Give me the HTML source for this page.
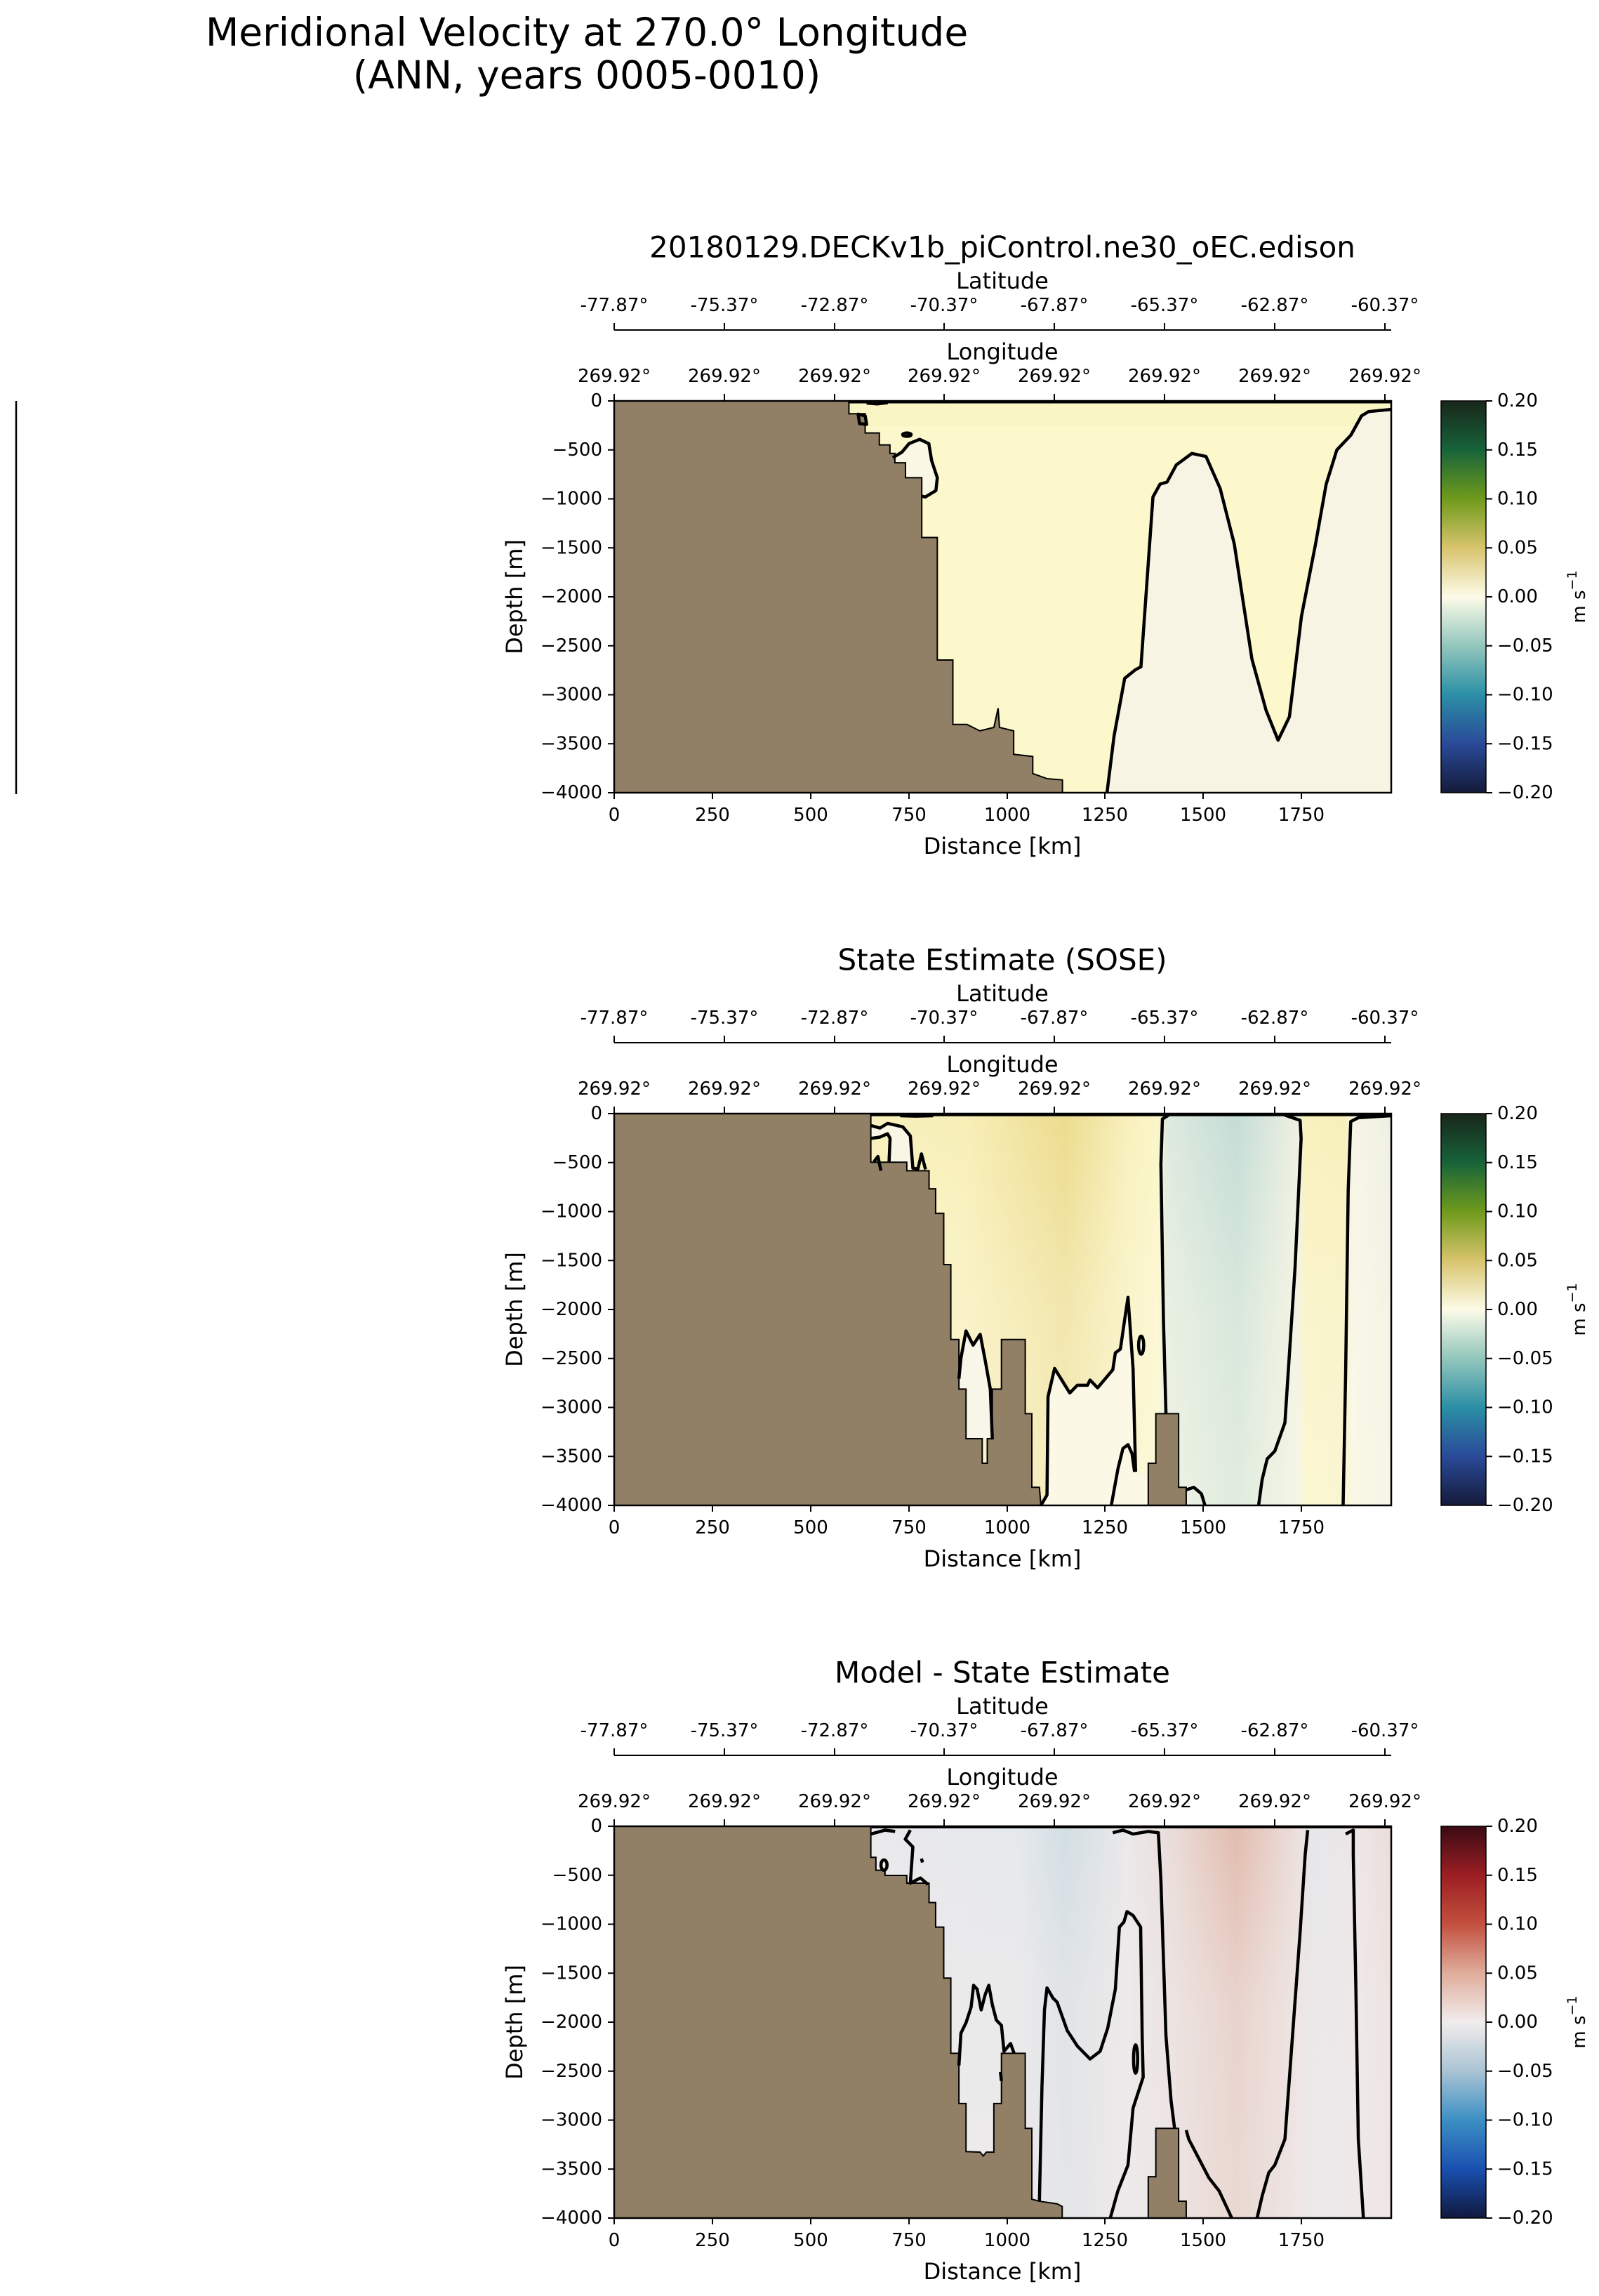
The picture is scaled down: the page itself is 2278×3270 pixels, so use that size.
<!DOCTYPE html>
<html><head><meta charset="utf-8"><style>
html,body{margin:0;padding:0;background:#fff;}
svg{display:block;}
text{font-family:"DejaVu Sans","Liberation Sans",sans-serif;fill:#000;}
.tk{font-size:26px;}
.al{font-size:32px;}
.tt{font-size:42px;}
</style></head><body>
<svg width="2278" height="3270" viewBox="0 0 2278 3270" xmlns="http://www.w3.org/2000/svg">
<defs>
<linearGradient id="cb1" x1="0" y1="0" x2="0" y2="1">
<stop offset="0" stop-color="#18261a"/><stop offset="0.125" stop-color="#17633a"/><stop offset="0.25" stop-color="#6f9a1c"/><stop offset="0.375" stop-color="#d8c46c"/><stop offset="0.5" stop-color="#fdfbe8"/><stop offset="0.625" stop-color="#93c6bc"/><stop offset="0.75" stop-color="#2b8fa6"/><stop offset="0.875" stop-color="#2a4a98"/><stop offset="1" stop-color="#141a3a"/>
</linearGradient>
<linearGradient id="cb3" x1="0" y1="0" x2="0" y2="1">
<stop offset="0" stop-color="#3b0a14"/><stop offset="0.125" stop-color="#9b1e23"/><stop offset="0.25" stop-color="#c4503f"/><stop offset="0.375" stop-color="#e0ad9b"/><stop offset="0.5" stop-color="#f1ecec"/><stop offset="0.625" stop-color="#a9c4d4"/><stop offset="0.75" stop-color="#3c8fc4"/><stop offset="0.875" stop-color="#1a50b0"/><stop offset="1" stop-color="#11183e"/>
</linearGradient>
<linearGradient id="bg2" x1="0" y1="0" x2="1" y2="0">
<stop offset="0" stop-color="#fbf6c6"/><stop offset="0.45" stop-color="#f8efb8"/><stop offset="0.58" stop-color="#ecdc8e"/><stop offset="0.66" stop-color="#f8f0bc"/><stop offset="0.70" stop-color="#fbf6c8"/><stop offset="0.71" stop-color="#dfeadf"/><stop offset="0.80" stop-color="#c4ddd6"/><stop offset="0.88" stop-color="#eef0e2"/><stop offset="0.89" stop-color="#f9f1bd"/><stop offset="0.94" stop-color="#f8f0bb"/><stop offset="0.95" stop-color="#f7f5e6"/><stop offset="1" stop-color="#eef0e4"/>
</linearGradient>
<linearGradient id="fade2" x1="0" y1="0" x2="0" y2="1">
<stop offset="0" stop-color="#fdfbe8" stop-opacity="0"/><stop offset="0.5" stop-color="#fdfbe8" stop-opacity="0.35"/><stop offset="1" stop-color="#fdfbe8" stop-opacity="0.5"/>
</linearGradient>
<linearGradient id="bg3" x1="0" y1="0" x2="1" y2="0">
<stop offset="0" stop-color="#efeaea"/><stop offset="0.42" stop-color="#e8e9ec"/><stop offset="0.52" stop-color="#e6e9ec"/><stop offset="0.58" stop-color="#d2dee4"/><stop offset="0.66" stop-color="#ebe9ea"/><stop offset="0.72" stop-color="#eadcd8"/><stop offset="0.80" stop-color="#e2bcae"/><stop offset="0.88" stop-color="#ece0dd"/><stop offset="0.90" stop-color="#e6e7ea"/><stop offset="0.96" stop-color="#eee6e6"/><stop offset="1" stop-color="#ecdcd8"/>
</linearGradient>
<linearGradient id="fade3" x1="0" y1="0" x2="0" y2="1">
<stop offset="0" stop-color="#efeaea" stop-opacity="0"/><stop offset="0.45" stop-color="#efeaea" stop-opacity="0.5"/><stop offset="1" stop-color="#efeaea" stop-opacity="0.6"/>
</linearGradient>
</defs>

<text x="836" y="46" font-size="55" text-anchor="middle" dominant-baseline="central">Meridional Velocity at 270.0° Longitude</text>
<text x="836" y="107" font-size="55" text-anchor="middle" dominant-baseline="central">(ANN, years 0005-0010)</text>
<line x1="23" y1="571" x2="23" y2="1131" stroke="#000" stroke-width="2.5"/>

<!-- ================= PANEL 1 ================= -->
<g transform="translate(0,571)">
<svg x="875" y="0" width="1107" height="558" viewBox="173 445 1099 918" preserveAspectRatio="none">
<rect x="173" y="445" width="1099" height="918" fill="#fcf8cc"/>
<rect x="173" y="445" width="1099" height="60" fill="#f9f3c0" opacity="0.6"/>
<path d="M870,1363 L880,1230 L895,1095 L910,1075 L918,1068 L935,670 L945,640 L955,635 L968,595 L990,568 L1010,575 L1030,650 L1050,780 L1075,1050 L1095,1170 L1112,1240 L1128,1185 L1145,950 L1165,780 L1180,640 L1195,560 L1215,525 L1230,480 L1240,470 L1272,465 L1272,1363 Z" fill="#f8f4e3"/>
<path d="M567,578 L580,565 L590,545 L605,535 L618,545 L622,585 L630,625 L628,655 L613,670 L610,668 Z" fill="#faf7e4"/>
<path d="M173,445 L505,445 L505,475 L528,475 L528,520 L548,520 L548,548 L563,548 L563,568 L570,568 L570,590 L585,590 L585,625 L608,625 L608,765 L630,765 L630,1052 L652,1052 L652,1203 L672,1203 L690,1218 L710,1210 L716,1165 L718,1210 L738,1218 L738,1273 L765,1278 L765,1318 L785,1330 L807,1333 L807,1363 L173,1363 Z" fill="#918065" stroke="#000" stroke-width="2" vector-effect="non-scaling-stroke"/>
<g fill="none" stroke="#000" stroke-width="4.5" stroke-linejoin="round">
<path vector-effect="non-scaling-stroke" d="M870,1363 L880,1230 L895,1095 L910,1075 L918,1068 L935,670 L945,640 L955,635 L968,595 L990,568 L1010,575 L1030,650 L1050,780 L1075,1050 L1095,1170 L1112,1240 L1128,1185 L1145,950 L1165,780 L1180,640 L1195,560 L1215,525 L1230,480 L1240,470 L1272,465"/>
<path vector-effect="non-scaling-stroke" d="M567,578 L580,565 L590,545 L605,535 L618,545 L622,585 L630,625 L628,655 L613,670 L608,668"/>
<ellipse vector-effect="non-scaling-stroke" cx="587" cy="524" rx="6" ry="4"/>
<path vector-effect="non-scaling-stroke" d="M518,476 L528,480 L530,500 L520,498 Z"/>
<path vector-effect="non-scaling-stroke" d="M530,450 L545,452 L560,449"/>
<path vector-effect="non-scaling-stroke" d="M505,447 L1272,447"/>
</g>
</svg>
<rect x="875" y="0" width="1107" height="558" fill="none" stroke="#000" stroke-width="2.5"/>
<rect x="2053" y="0" width="64" height="558" fill="url(#cb1)" stroke="#000" stroke-width="1.5"/>
</g>

<!-- ================= PANEL 2 ================= -->
<g transform="translate(0,1586)">
<svg x="875" y="0" width="1107" height="558" viewBox="5 4 1535 1516" preserveAspectRatio="none">
<rect x="5" y="4" width="1535" height="1516" fill="url(#bg2)"/>
<rect x="5" y="4" width="1535" height="1516" fill="url(#fade2)"/>
<path d="M686,1030 L690,950 L700,845 L714,900 L728,858 L738,960 L748,1070 L752,1265 L700,1265 L700,1070 L686,1070 Z" fill="#f8f6e8"/>
<path d="M848,1520 L860,1480 L862,1100 L875,990 L905,1085 L920,1055 L940,1055 L945,1035 L960,1065 L975,1030 L990,995 L995,930 L1005,915 L1012,820 L1020,715 L1030,990 L1035,1390 L1060,1400 L1060,1520 Z" fill="#fbf8e6"/>
<path d="M512,45 L530,60 L545,42 L575,55 L590,90 L595,215 L583,225 L583,192 L548,192 L550,100 L545,82 L530,95 L512,100 Z" fill="#f9f6e6"/>
<path d="M5,4 L512,4 L512,192 L583,192 L583,225 L627,225 L627,295 L640,295 L640,390 L656,390 L656,588 L670,588 L670,878 L686,878 L686,1070 L700,1070 L700,1262 L732,1262 L732,1357 L742,1357 L742,1262 L752,1262 L752,1070 L770,1070 L770,878 L817,878 L817,1165 L830,1165 L830,1450 L845,1450 L848,1520 L5,1520 Z" fill="#918065" stroke="#000" stroke-width="2" vector-effect="non-scaling-stroke"/>
<path d="M1060,1520 L1060,1357 L1075,1357 L1075,1165 L1120,1165 L1120,1450 L1135,1450 L1135,1520 Z" fill="#918065" stroke="#000" stroke-width="2" vector-effect="non-scaling-stroke"/>
<g fill="none" stroke="#000" stroke-width="4.5" stroke-linejoin="round">
<path vector-effect="non-scaling-stroke" d="M512,8 L1540,8"/>
<path vector-effect="non-scaling-stroke" d="M512,50 L530,60 L545,42 L575,55 L590,90 L595,215 L605,218 L612,160 L620,220"/>
<path vector-effect="non-scaling-stroke" d="M512,100 L530,95 L545,82 L550,100 L548,190"/>
<path vector-effect="non-scaling-stroke" d="M518,190 L526,170 L532,225"/>
<path vector-effect="non-scaling-stroke" d="M1100,10 L1088,25 L1085,200 L1090,800 L1095,1165"/>
<path vector-effect="non-scaling-stroke" d="M1330,10 L1360,30 L1362,100 L1350,600 L1330,1200 L1310,1310 L1295,1340 L1285,1420 L1278,1520"/>
<path vector-effect="non-scaling-stroke" d="M1540,12 L1475,20 L1460,35 L1455,300 L1450,1000 L1445,1520"/>
<path vector-effect="non-scaling-stroke" d="M686,1030 L690,950 L700,845 L714,900 L728,858 L738,960 L748,1070 L752,1265"/>
<path vector-effect="non-scaling-stroke" d="M848,1520 L860,1480 L862,1100 L875,990 L905,1085 L920,1055 L940,1055 L945,1035 L960,1065 L975,1030 L990,995 L995,930 L1005,915 L1012,820 L1020,715 L1030,990 L1035,1390"/>
<ellipse vector-effect="non-scaling-stroke" cx="1046" cy="900" rx="5" ry="35"/>
<path vector-effect="non-scaling-stroke" d="M987,1520 L1000,1380 L1010,1300 L1020,1285 L1028,1320 L1033,1390"/>
<path vector-effect="non-scaling-stroke" d="M1135,1460 L1150,1450 L1165,1475 L1172,1520"/>
<path vector-effect="non-scaling-stroke" d="M570,12 L600,14 L635,12"/>
</g>
</svg>
<rect x="875" y="0" width="1107" height="558" fill="none" stroke="#000" stroke-width="2.5"/>
<rect x="2053" y="0" width="64" height="558" fill="url(#cb1)" stroke="#000" stroke-width="1.5"/>
</g>

<!-- ================= PANEL 3 ================= -->
<g transform="translate(0,2601)">
<svg x="875" y="0" width="1107" height="558" viewBox="5 -10 1535 1515" preserveAspectRatio="none">
<rect x="5" y="-10" width="1535" height="1515" fill="url(#bg3)"/>
<rect x="5" y="-10" width="1535" height="1515" fill="url(#fade3)"/>
<path d="M5,-10 L512,-10 L512,110 L522,110 L522,160 L540,160 L540,180 L583,180 L583,210 L627,210 L627,285 L640,285 L640,380 L656,380 L656,577 L670,577 L670,868 L686,868 L686,1062 L700,1062 L700,1248 L728,1250 L734,1265 L740,1250 L755,1250 L755,1062 L770,1062 L770,868 L817,868 L817,1158 L830,1158 L830,1432 L845,1440 L880,1450 L890,1460 L890,1505 L5,1505 Z" fill="#918065" stroke="#000" stroke-width="2" vector-effect="non-scaling-stroke"/>
<path d="M1060,1505 L1060,1345 L1075,1345 L1075,1158 L1120,1158 L1120,1440 L1135,1440 L1135,1505 Z" fill="#918065" stroke="#000" stroke-width="2" vector-effect="non-scaling-stroke"/>
<g fill="none" stroke="#000" stroke-width="4.5" stroke-linejoin="round">
<path vector-effect="non-scaling-stroke" d="M512,-8 L1540,-8"/>
<path vector-effect="non-scaling-stroke" d="M512,20 L540,5 L560,10"/>
<path vector-effect="non-scaling-stroke" d="M590,5 L580,40 L595,70 L590,210 L610,190 L625,215"/>
<ellipse vector-effect="non-scaling-stroke" cx="538" cy="140" rx="6" ry="20"/>
<path vector-effect="non-scaling-stroke" d="M990,15 L1010,5 L1030,20 L1060,10 L1080,15 L1085,200 L1095,800 L1105,1050 L1112,1158"/>
<path vector-effect="non-scaling-stroke" d="M1375,5 L1370,100 L1360,400 L1345,800 L1330,1200 L1310,1300 L1298,1330 L1285,1420 L1275,1505"/>
<path vector-effect="non-scaling-stroke" d="M1450,20 L1465,5 L1465,100 L1470,600 L1475,1200 L1485,1505"/>
<path vector-effect="non-scaling-stroke" d="M686,915 L690,790 L700,750 L710,690 L715,605 L722,620 L730,700 L738,640 L745,605 L752,680 L760,740 L770,760 L775,860 L788,830 L795,868"/>
<path vector-effect="non-scaling-stroke" d="M845,1440 L850,1000 L855,700 L860,615 L872,655 L880,670 L900,780 L920,840 L945,890 L965,860 L980,770 L995,620 L1003,380 L1012,360 L1018,320 L1030,335 L1045,380 L1048,800 L1050,960 L1040,1020 L1030,1080 L1020,1300 L1000,1400 L985,1505"/>
<ellipse vector-effect="non-scaling-stroke" cx="1035" cy="890" rx="4" ry="55"/>
<path vector-effect="non-scaling-stroke" d="M1135,1165 L1140,1200 L1180,1350 L1200,1400 L1225,1505"/>
<path vector-effect="non-scaling-stroke" d="M612,115 L614,130"/>
<path vector-effect="non-scaling-stroke" d="M768,940 L770,975"/>
</g>
</svg>
<rect x="875" y="0" width="1107" height="558" fill="none" stroke="#000" stroke-width="2.5"/>
<rect x="2053" y="0" width="64" height="558" fill="url(#cb3)" stroke="#000" stroke-width="1.5"/>
</g>

<g transform="translate(0,571)">
<text class="tt" x="1428" y="-219" text-anchor="middle" dominant-baseline="central">20180129.DECKv1b_piControl.ne30_oEC.edison</text>
</g>
<g transform="translate(0,1586)">
<text class="tt" x="1428" y="-219" text-anchor="middle" dominant-baseline="central">State Estimate (SOSE)</text>
</g>
<g transform="translate(0,2601)">
<text class="tt" x="1428" y="-219" text-anchor="middle" dominant-baseline="central">Model - State Estimate</text>
</g>

<g transform="translate(0,571)">
<text class="al" x="1428" y="-171" text-anchor="middle" dominant-baseline="central">Latitude</text>
<g class="tk" text-anchor="middle">
<text x="875" y="-136" dominant-baseline="central">-77.87°</text><text x="1032" y="-136" dominant-baseline="central">-75.37°</text><text x="1189" y="-136" dominant-baseline="central">-72.87°</text><text x="1345" y="-136" dominant-baseline="central">-70.37°</text><text x="1502" y="-136" dominant-baseline="central">-67.87°</text><text x="1659" y="-136" dominant-baseline="central">-65.37°</text><text x="1816" y="-136" dominant-baseline="central">-62.87°</text><text x="1973" y="-136" dominant-baseline="central">-60.37°</text>
</g>
<path d="M875,-101 L1982,-101 M875,-101 v-10 M1032,-101 v-10 M1189,-101 v-10 M1345,-101 v-10 M1502,-101 v-10 M1659,-101 v-10 M1816,-101 v-10 M1973,-101 v-10" stroke="#000" stroke-width="2" fill="none"/>
<text class="al" x="1428" y="-70" text-anchor="middle" dominant-baseline="central">Longitude</text>
<g class="tk" text-anchor="middle">
<text x="875" y="-35" dominant-baseline="central">269.92°</text><text x="1032" y="-35" dominant-baseline="central">269.92°</text><text x="1189" y="-35" dominant-baseline="central">269.92°</text><text x="1345" y="-35" dominant-baseline="central">269.92°</text><text x="1502" y="-35" dominant-baseline="central">269.92°</text><text x="1659" y="-35" dominant-baseline="central">269.92°</text><text x="1816" y="-35" dominant-baseline="central">269.92°</text><text x="1973" y="-35" dominant-baseline="central">269.92°</text>
</g>
<path d="M875,0 v-10 M1032,0 v-10 M1189,0 v-10 M1345,0 v-10 M1502,0 v-10 M1659,0 v-10 M1816,0 v-10 M1973,0 v-10" stroke="#000" stroke-width="2"/>
<path d="M875,0 h-9 M875,69.75 h-9 M875,139.5 h-9 M875,209.25 h-9 M875,279 h-9 M875,348.75 h-9 M875,418.5 h-9 M875,488.25 h-9 M875,558 h-9" stroke="#000" stroke-width="2"/>
<g class="tk" text-anchor="end">
<text x="858" y="0" dominant-baseline="central">0</text><text x="858" y="69.75" dominant-baseline="central">−500</text><text x="858" y="139.5" dominant-baseline="central">−1000</text><text x="858" y="209.25" dominant-baseline="central">−1500</text><text x="858" y="279" dominant-baseline="central">−2000</text><text x="858" y="348.75" dominant-baseline="central">−2500</text><text x="858" y="418.5" dominant-baseline="central">−3000</text><text x="858" y="488.25" dominant-baseline="central">−3500</text><text x="858" y="558" dominant-baseline="central">−4000</text>
</g>
<text class="al" transform="translate(733,279) rotate(-90)" text-anchor="middle" dominant-baseline="central">Depth [m]</text>
<path d="M875,558 v9 M1015,558 v9 M1155,558 v9 M1295,558 v9 M1435,558 v9 M1574,558 v9 M1714,558 v9 M1854,558 v9" stroke="#000" stroke-width="2"/>
<g class="tk" text-anchor="middle">
<text x="875" y="590" dominant-baseline="central">0</text><text x="1015" y="590" dominant-baseline="central">250</text><text x="1155" y="590" dominant-baseline="central">500</text><text x="1295" y="590" dominant-baseline="central">750</text><text x="1435" y="590" dominant-baseline="central">1000</text><text x="1574" y="590" dominant-baseline="central">1250</text><text x="1714" y="590" dominant-baseline="central">1500</text><text x="1854" y="590" dominant-baseline="central">1750</text>
</g>
<text class="al" x="1428" y="634" text-anchor="middle" dominant-baseline="central">Distance [km]</text>
<path d="M2117,0 h9 M2117,69.75 h9 M2117,139.5 h9 M2117,209.25 h9 M2117,279 h9 M2117,348.75 h9 M2117,418.5 h9 M2117,488.25 h9 M2117,558 h9" stroke="#000" stroke-width="2"/>
<g class="tk">
<text x="2133" y="0" dominant-baseline="central">0.20</text><text x="2133" y="69.75" dominant-baseline="central">0.15</text><text x="2133" y="139.5" dominant-baseline="central">0.10</text><text x="2133" y="209.25" dominant-baseline="central">0.05</text><text x="2133" y="279" dominant-baseline="central">0.00</text><text x="2133" y="348.75" dominant-baseline="central">−0.05</text><text x="2133" y="418.5" dominant-baseline="central">−0.10</text><text x="2133" y="488.25" dominant-baseline="central">−0.15</text><text x="2133" y="558" dominant-baseline="central">−0.20</text>
</g>
<text class="tk" transform="translate(2250,279) rotate(-90)" text-anchor="middle" dominant-baseline="central">m s<tspan dy="-10" font-size="19">−1</tspan></text>
</g>

<g transform="translate(0,1586)">
<text class="al" x="1428" y="-171" text-anchor="middle" dominant-baseline="central">Latitude</text>
<g class="tk" text-anchor="middle">
<text x="875" y="-136" dominant-baseline="central">-77.87°</text><text x="1032" y="-136" dominant-baseline="central">-75.37°</text><text x="1189" y="-136" dominant-baseline="central">-72.87°</text><text x="1345" y="-136" dominant-baseline="central">-70.37°</text><text x="1502" y="-136" dominant-baseline="central">-67.87°</text><text x="1659" y="-136" dominant-baseline="central">-65.37°</text><text x="1816" y="-136" dominant-baseline="central">-62.87°</text><text x="1973" y="-136" dominant-baseline="central">-60.37°</text>
</g>
<path d="M875,-101 L1982,-101 M875,-101 v-10 M1032,-101 v-10 M1189,-101 v-10 M1345,-101 v-10 M1502,-101 v-10 M1659,-101 v-10 M1816,-101 v-10 M1973,-101 v-10" stroke="#000" stroke-width="2" fill="none"/>
<text class="al" x="1428" y="-70" text-anchor="middle" dominant-baseline="central">Longitude</text>
<g class="tk" text-anchor="middle">
<text x="875" y="-35" dominant-baseline="central">269.92°</text><text x="1032" y="-35" dominant-baseline="central">269.92°</text><text x="1189" y="-35" dominant-baseline="central">269.92°</text><text x="1345" y="-35" dominant-baseline="central">269.92°</text><text x="1502" y="-35" dominant-baseline="central">269.92°</text><text x="1659" y="-35" dominant-baseline="central">269.92°</text><text x="1816" y="-35" dominant-baseline="central">269.92°</text><text x="1973" y="-35" dominant-baseline="central">269.92°</text>
</g>
<path d="M875,0 v-10 M1032,0 v-10 M1189,0 v-10 M1345,0 v-10 M1502,0 v-10 M1659,0 v-10 M1816,0 v-10 M1973,0 v-10" stroke="#000" stroke-width="2"/>
<path d="M875,0 h-9 M875,69.75 h-9 M875,139.5 h-9 M875,209.25 h-9 M875,279 h-9 M875,348.75 h-9 M875,418.5 h-9 M875,488.25 h-9 M875,558 h-9" stroke="#000" stroke-width="2"/>
<g class="tk" text-anchor="end">
<text x="858" y="0" dominant-baseline="central">0</text><text x="858" y="69.75" dominant-baseline="central">−500</text><text x="858" y="139.5" dominant-baseline="central">−1000</text><text x="858" y="209.25" dominant-baseline="central">−1500</text><text x="858" y="279" dominant-baseline="central">−2000</text><text x="858" y="348.75" dominant-baseline="central">−2500</text><text x="858" y="418.5" dominant-baseline="central">−3000</text><text x="858" y="488.25" dominant-baseline="central">−3500</text><text x="858" y="558" dominant-baseline="central">−4000</text>
</g>
<text class="al" transform="translate(733,279) rotate(-90)" text-anchor="middle" dominant-baseline="central">Depth [m]</text>
<path d="M875,558 v9 M1015,558 v9 M1155,558 v9 M1295,558 v9 M1435,558 v9 M1574,558 v9 M1714,558 v9 M1854,558 v9" stroke="#000" stroke-width="2"/>
<g class="tk" text-anchor="middle">
<text x="875" y="590" dominant-baseline="central">0</text><text x="1015" y="590" dominant-baseline="central">250</text><text x="1155" y="590" dominant-baseline="central">500</text><text x="1295" y="590" dominant-baseline="central">750</text><text x="1435" y="590" dominant-baseline="central">1000</text><text x="1574" y="590" dominant-baseline="central">1250</text><text x="1714" y="590" dominant-baseline="central">1500</text><text x="1854" y="590" dominant-baseline="central">1750</text>
</g>
<text class="al" x="1428" y="634" text-anchor="middle" dominant-baseline="central">Distance [km]</text>
<path d="M2117,0 h9 M2117,69.75 h9 M2117,139.5 h9 M2117,209.25 h9 M2117,279 h9 M2117,348.75 h9 M2117,418.5 h9 M2117,488.25 h9 M2117,558 h9" stroke="#000" stroke-width="2"/>
<g class="tk">
<text x="2133" y="0" dominant-baseline="central">0.20</text><text x="2133" y="69.75" dominant-baseline="central">0.15</text><text x="2133" y="139.5" dominant-baseline="central">0.10</text><text x="2133" y="209.25" dominant-baseline="central">0.05</text><text x="2133" y="279" dominant-baseline="central">0.00</text><text x="2133" y="348.75" dominant-baseline="central">−0.05</text><text x="2133" y="418.5" dominant-baseline="central">−0.10</text><text x="2133" y="488.25" dominant-baseline="central">−0.15</text><text x="2133" y="558" dominant-baseline="central">−0.20</text>
</g>
<text class="tk" transform="translate(2250,279) rotate(-90)" text-anchor="middle" dominant-baseline="central">m s<tspan dy="-10" font-size="19">−1</tspan></text>
</g>

<g transform="translate(0,2601)">
<text class="al" x="1428" y="-171" text-anchor="middle" dominant-baseline="central">Latitude</text>
<g class="tk" text-anchor="middle">
<text x="875" y="-136" dominant-baseline="central">-77.87°</text><text x="1032" y="-136" dominant-baseline="central">-75.37°</text><text x="1189" y="-136" dominant-baseline="central">-72.87°</text><text x="1345" y="-136" dominant-baseline="central">-70.37°</text><text x="1502" y="-136" dominant-baseline="central">-67.87°</text><text x="1659" y="-136" dominant-baseline="central">-65.37°</text><text x="1816" y="-136" dominant-baseline="central">-62.87°</text><text x="1973" y="-136" dominant-baseline="central">-60.37°</text>
</g>
<path d="M875,-101 L1982,-101 M875,-101 v-10 M1032,-101 v-10 M1189,-101 v-10 M1345,-101 v-10 M1502,-101 v-10 M1659,-101 v-10 M1816,-101 v-10 M1973,-101 v-10" stroke="#000" stroke-width="2" fill="none"/>
<text class="al" x="1428" y="-70" text-anchor="middle" dominant-baseline="central">Longitude</text>
<g class="tk" text-anchor="middle">
<text x="875" y="-35" dominant-baseline="central">269.92°</text><text x="1032" y="-35" dominant-baseline="central">269.92°</text><text x="1189" y="-35" dominant-baseline="central">269.92°</text><text x="1345" y="-35" dominant-baseline="central">269.92°</text><text x="1502" y="-35" dominant-baseline="central">269.92°</text><text x="1659" y="-35" dominant-baseline="central">269.92°</text><text x="1816" y="-35" dominant-baseline="central">269.92°</text><text x="1973" y="-35" dominant-baseline="central">269.92°</text>
</g>
<path d="M875,0 v-10 M1032,0 v-10 M1189,0 v-10 M1345,0 v-10 M1502,0 v-10 M1659,0 v-10 M1816,0 v-10 M1973,0 v-10" stroke="#000" stroke-width="2"/>
<path d="M875,0 h-9 M875,69.75 h-9 M875,139.5 h-9 M875,209.25 h-9 M875,279 h-9 M875,348.75 h-9 M875,418.5 h-9 M875,488.25 h-9 M875,558 h-9" stroke="#000" stroke-width="2"/>
<g class="tk" text-anchor="end">
<text x="858" y="0" dominant-baseline="central">0</text><text x="858" y="69.75" dominant-baseline="central">−500</text><text x="858" y="139.5" dominant-baseline="central">−1000</text><text x="858" y="209.25" dominant-baseline="central">−1500</text><text x="858" y="279" dominant-baseline="central">−2000</text><text x="858" y="348.75" dominant-baseline="central">−2500</text><text x="858" y="418.5" dominant-baseline="central">−3000</text><text x="858" y="488.25" dominant-baseline="central">−3500</text><text x="858" y="558" dominant-baseline="central">−4000</text>
</g>
<text class="al" transform="translate(733,279) rotate(-90)" text-anchor="middle" dominant-baseline="central">Depth [m]</text>
<path d="M875,558 v9 M1015,558 v9 M1155,558 v9 M1295,558 v9 M1435,558 v9 M1574,558 v9 M1714,558 v9 M1854,558 v9" stroke="#000" stroke-width="2"/>
<g class="tk" text-anchor="middle">
<text x="875" y="590" dominant-baseline="central">0</text><text x="1015" y="590" dominant-baseline="central">250</text><text x="1155" y="590" dominant-baseline="central">500</text><text x="1295" y="590" dominant-baseline="central">750</text><text x="1435" y="590" dominant-baseline="central">1000</text><text x="1574" y="590" dominant-baseline="central">1250</text><text x="1714" y="590" dominant-baseline="central">1500</text><text x="1854" y="590" dominant-baseline="central">1750</text>
</g>
<text class="al" x="1428" y="634" text-anchor="middle" dominant-baseline="central">Distance [km]</text>
<path d="M2117,0 h9 M2117,69.75 h9 M2117,139.5 h9 M2117,209.25 h9 M2117,279 h9 M2117,348.75 h9 M2117,418.5 h9 M2117,488.25 h9 M2117,558 h9" stroke="#000" stroke-width="2"/>
<g class="tk">
<text x="2133" y="0" dominant-baseline="central">0.20</text><text x="2133" y="69.75" dominant-baseline="central">0.15</text><text x="2133" y="139.5" dominant-baseline="central">0.10</text><text x="2133" y="209.25" dominant-baseline="central">0.05</text><text x="2133" y="279" dominant-baseline="central">0.00</text><text x="2133" y="348.75" dominant-baseline="central">−0.05</text><text x="2133" y="418.5" dominant-baseline="central">−0.10</text><text x="2133" y="488.25" dominant-baseline="central">−0.15</text><text x="2133" y="558" dominant-baseline="central">−0.20</text>
</g>
<text class="tk" transform="translate(2250,279) rotate(-90)" text-anchor="middle" dominant-baseline="central">m s<tspan dy="-10" font-size="19">−1</tspan></text>
</g>
</svg>
</body></html>
